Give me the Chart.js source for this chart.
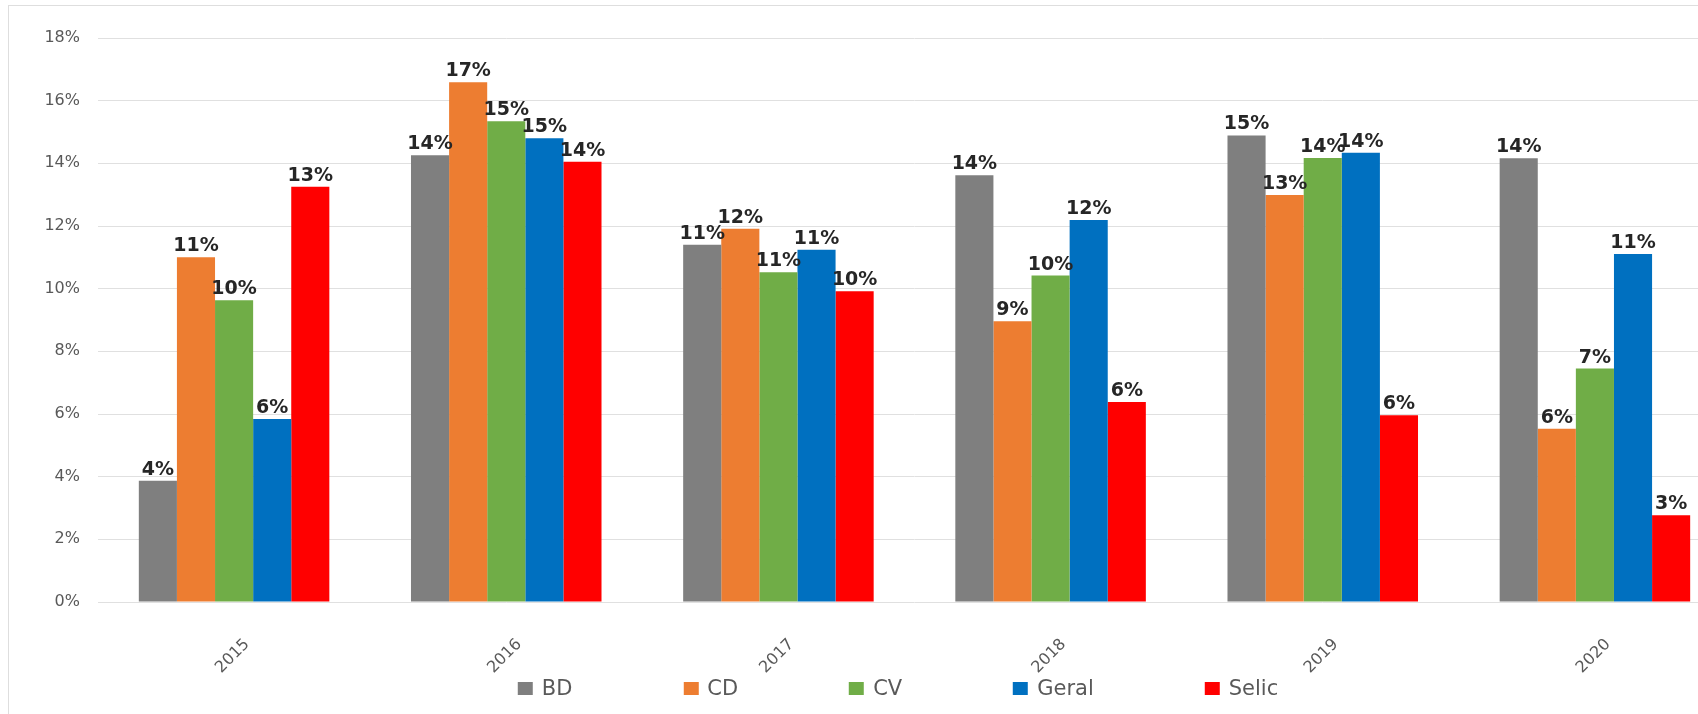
<!DOCTYPE html>
<html>
<head>
<meta charset="utf-8">
<script src="https://cdn.jsdelivr.net/npm/chart.js@4.4.1/dist/chart.umd.min.js"></script>
<style>
  html, body { margin: 0; padding: 0; background: #fff; overflow: hidden; width: 1698px; height: 714px; }
  #frame { position: absolute; left: 8px; top: 5px; width: 1800px; height: 800px;
           border-left: 1px solid #dedede; border-top: 1px solid #dedede; }
  #wrap { position: absolute; left: 0; top: 0; width: 1740px; height: 714px; }
  #legend { position: absolute; top: 680px; left: 898px; transform: translateX(-50%);
            display: flex; gap: 111px; white-space: nowrap;
            font: 21px 'DejaVu Sans'; color: #595959; }
  #legend .item { display: flex; align-items: center; height: 16px; line-height: 16px; }
  #legend .swatch { width: 15px; height: 13px; margin-right: 9px; }
</style>
</head>
<body>
<div id="frame"></div>
<div id="wrap"><canvas id="chart" width="1740" height="714"></canvas></div>
<div id="legend"></div>
<script>
// categories and series (percent)
const years = ['2015', '2016', '2017', '2018', '2019', '2020'];
const seriesNames = ['BD', 'CD', 'CV', 'Geral', 'Selic'];
const seriesColors = ['#7f7f7f', '#ed7d31', '#70ad47', '#0070c0', '#ff0000'];

const bd    = [3.87, 14.26, 11.40, 13.62, 14.89, 14.16];
const cd    = [11.00, 16.59, 11.91, 8.96, 12.99, 5.53];
const cv    = [9.63, 15.34, 10.52, 10.42, 14.17, 7.45];
const geral = [5.84, 14.80, 11.24, 12.19, 14.34, 11.11];
const selic = [13.25, 14.05, 9.92, 6.38, 5.96, 2.77];

const yMin = 0;
const yMax = 18;
const yStep = 2;

const seriesData = [bd, cd, cv, geral, selic];

// rounded percentage printed above every bar
const valueLabels = {
  id: 'valueLabels',
  afterDatasetsDraw(chart) {
    const ctx = chart.ctx;
    ctx.save();
    ctx.font = 'bold 19px "DejaVu Sans"';
    ctx.fillStyle = '#262626';
    ctx.textAlign = 'center';
    ctx.textBaseline = 'alphabetic';
    chart.data.datasets.forEach((ds, i) => {
      chart.getDatasetMeta(i).data.forEach((bar, j) => {
        ctx.fillText(Math.round(ds.data[j]) + '%', bar.x, bar.y - 6);
      });
    });
    ctx.restore();
  }
};

const datasets = seriesNames.map((name, i) => ({
  label: name,
  data: seriesData[i],
  backgroundColor: seriesColors[i],
  borderWidth: 0,
  categoryPercentage: 0.7,
  barPercentage: 1.0
}));

new Chart(document.getElementById('chart').getContext('2d'), {
  type: 'bar',
  data: { labels: years, datasets: datasets },
  options: {
    responsive: false,
    animation: false,
    devicePixelRatio: 1,
    layout: { padding: { top: 38, right: 9, left: 0, bottom: 0 } },
    plugins: {
      legend: { display: false },
      tooltip: { enabled: false }
    },
    scales: {
      x: {
        grid: { display: false },
        border: { display: false },
        ticks: {
          color: '#595959',
          font: { family: 'DejaVu Sans', size: 16 },
          minRotation: 45,
          maxRotation: 45,
          autoSkip: false,
          padding: 25,
          labelOffset: 13
        },
        afterFit: (scale) => { scale.height = 112; }
      },
      y: {
        min: yMin,
        max: yMax,
        grid: { color: '#e0e0e0', drawTicks: false },
        border: { display: false },
        ticks: {
          stepSize: yStep,
          color: '#595959',
          font: { family: 'DejaVu Sans', size: 16 },
          padding: 18,
          callback: (v) => v + '%'
        },
        afterFit: (scale) => { scale.width = 98; }
      }
    }
  },
  plugins: [valueLabels]
});

// legend under the plot
const legend = document.getElementById('legend');
seriesNames.forEach((name, i) => {
  const item = document.createElement('div');
  item.className = 'item';
  const sw = document.createElement('span');
  sw.className = 'swatch';
  sw.style.background = seriesColors[i];
  const txt = document.createElement('span');
  txt.textContent = name;
  item.appendChild(sw);
  item.appendChild(txt);
  legend.appendChild(item);
});
</script>
</body>
</html>
